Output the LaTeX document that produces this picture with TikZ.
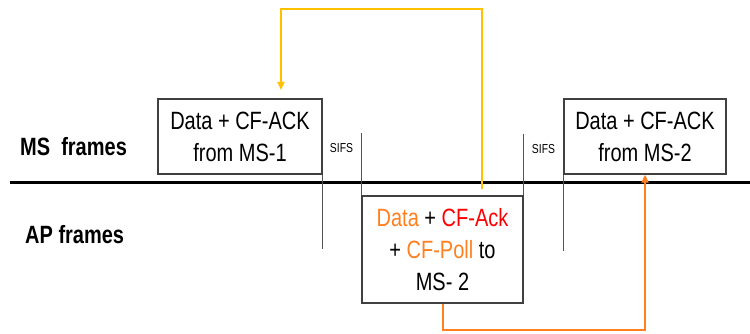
\documentclass[tikz,border=0pt]{standalone}
\usepackage{fontspec}
\setmainfont[FakeStretch=0.8]{Liberation Sans}
\usetikzlibrary{arrows.meta}
\definecolor{gold}{RGB}{255,192,0}
\definecolor{tang}{RGB}{255,128,32}
\definecolor{edge}{RGB}{64,64,64}
\begin{document}
\begin{tikzpicture}[x=1pt,y=-1pt,
  framebox/.style={draw=edge, line width=1.4pt, align=center, inner sep=0pt,
    font=\fontsize{25}{32}\selectfont},
  rowlabel/.style={anchor=west, inner sep=0pt, font=\fontsize{25}{30}\selectfont\bfseries},
  gap/.style={inner sep=0pt, font=\fontsize{13}{15}\selectfont},
  tick/.style={draw=edge!90, line width=1.3pt},
  medium/.style={line width=3pt, draw=black},
  link/.style={line width=2pt, -{Triangle[length=8pt,width=7pt]}}
]
\useasboundingbox (0,0) rectangle (750,334);

% shared medium
\coordinate (mleft) at (10,183);
\coordinate (mright) at (750,183);
\draw[medium] (mleft) -- (mright);

% row labels
\node[rowlabel] (ms) at (20,147) {MS\ \ frames};
\node[rowlabel] (ap) at (25,235) {AP frames};

% frames
\node[framebox, minimum width=164pt, minimum height=75pt] (f1) at (240,136.5)
  {Data + CF-ACK\\from MS-1};
\node[framebox, minimum width=161pt, minimum height=107pt] (f2) at (442.5,249.5)
  {\textcolor{tang}{Data} + \textcolor{red}{CF-Ack}\\+ \textcolor{tang}{CF-Poll} to\\MS- 2};
\node[framebox, minimum width=162pt, minimum height=75pt] (f3) at (645,136.5)
  {Data + CF-ACK\\from MS-2};

% frame boundary ticks
\draw[tick] (f1.south east) -- ++(0,74);
\draw[tick] (f2.north west) -- ++(0,-62);
\draw[tick] (f2.north east) -- ++(0,-61);
\draw[tick] (f3.south west) -- ++(0,76);

% interframe spaces
\node[gap] (s1) at (341.5,148) {SIFS};
\node[gap] (s2) at (543.5,149) {SIFS};

% poll / ack exchanges
\coordinate (ystart) at (482,189);
\coordinate (yend) at (281,90);
\draw[link, gold] (ystart) -- (482,9) -| (yend);
\draw[link, tang] (f2.south) -- ++(0,26) -| (f3.south);
\end{tikzpicture}
\end{document}
